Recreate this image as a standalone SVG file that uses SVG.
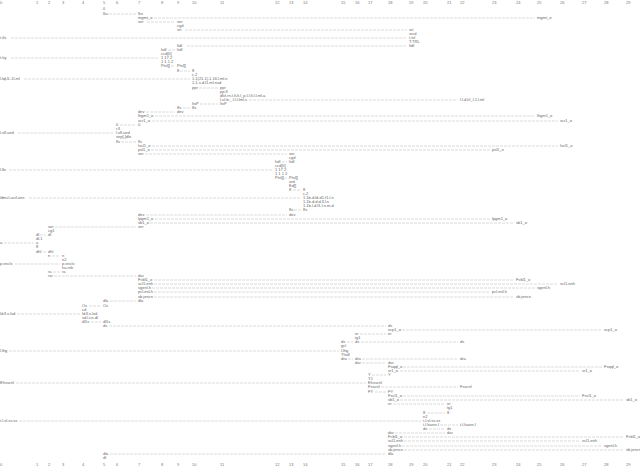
<svg xmlns="http://www.w3.org/2000/svg" width="640" height="466" viewBox="0 0 640 466">
<style>
text{font-family:"Liberation Sans",Arial,sans-serif;font-size:4px;fill:#666666}
.ax text{fill:#777777}
#connectors path{stroke:#c4c4c4;stroke-width:0.6;stroke-dasharray:3 1;fill:none}
</style>
<rect width="640" height="466" fill="#ffffff"/>
<g class="ax" id="axis-top">
<text x="0" y="4.4">0</text><text x="36" y="4.4">1</text><text x="48" y="4.4">2</text><text x="62" y="4.4">3</text><text x="82" y="4.4">4</text><text x="103" y="4.4">5</text><text x="116" y="4.4">6</text><text x="138" y="4.4">7</text><text x="161" y="4.4">8</text><text x="177" y="4.4">9</text><text x="192" y="4.4">10</text><text x="220" y="4.4">11</text><text x="275" y="4.4">12</text><text x="289" y="4.4">13</text><text x="303" y="4.4">14</text><text x="341" y="4.4">15</text><text x="355" y="4.4">16</text><text x="368" y="4.4">17</text><text x="388" y="4.4">18</text><text x="409" y="4.4">19</text><text x="423" y="4.4">20</text><text x="447" y="4.4">21</text><text x="460" y="4.4">22</text><text x="492" y="4.4">23</text><text x="516" y="4.4">24</text><text x="537" y="4.4">25</text><text x="560" y="4.4">26</text><text x="582" y="4.4">27</text><text x="604" y="4.4">28</text><text x="626" y="4.4">29</text>
</g>
<g class="ax" id="axis-bottom">
<text x="0" y="465.6">0</text><text x="36" y="465.6">1</text><text x="48" y="465.6">2</text><text x="62" y="465.6">3</text><text x="82" y="465.6">4</text><text x="103" y="465.6">5</text><text x="116" y="465.6">6</text><text x="138" y="465.6">7</text><text x="161" y="465.6">8</text><text x="177" y="465.6">9</text><text x="192" y="465.6">10</text><text x="220" y="465.6">11</text><text x="275" y="465.6">12</text><text x="289" y="465.6">13</text><text x="303" y="465.6">14</text><text x="341" y="465.6">15</text><text x="355" y="465.6">16</text><text x="368" y="465.6">17</text><text x="388" y="465.6">18</text><text x="409" y="465.6">19</text><text x="423" y="465.6">20</text><text x="447" y="465.6">21</text><text x="460" y="465.6">22</text><text x="492" y="465.6">23</text><text x="516" y="465.6">24</text><text x="537" y="465.6">25</text><text x="560" y="465.6">26</text><text x="582" y="465.6">27</text><text x="604" y="465.6">28</text><text x="626" y="465.6">29</text>
</g>
<g id="connectors">
<path d="M109 14H136"/><path d="M154 18H535"/><path d="M147 22H175"/><path d="M185 30H407"/><path d="M11 38H407"/><path d="M187 46H407"/><path d="M168 50H175"/><path d="M11 58H159"/><path d="M171 66H175"/><path d="M180 71H190"/><path d="M24 79H190"/><path d="M199 88H218"/><path d="M249 100H458"/><path d="M200 104H218"/><path d="M183 108H190"/><path d="M146 112H175"/><path d="M155 116H535"/><path d="M152 121H558"/><path d="M120 125H136"/><path d="M18 133H114"/><path d="M121 142H136"/><path d="M152 146H558"/><path d="M151 150H490"/><path d="M145 154H287"/><path d="M282 162H287"/><path d="M9 170H273"/><path d="M284.5 178H287"/><path d="M293 190H301"/><path d="M29 198H301"/><path d="M294 210H301"/><path d="M146 215H287"/><path d="M155 219H490"/><path d="M150 223H514"/><path d="M55 227H136"/><path d="M40 235H46"/><path d="M4 243H34"/><path d="M43 252H46"/><path d="M52 256H60"/><path d="M15 264H60"/><path d="M53 272H60"/><path d="M54 276H136"/><path d="M154 280H514"/><path d="M154 284H558"/><path d="M152 288H535"/><path d="M154 292H490"/><path d="M154 297H514"/><path d="M110 301H136"/><path d="M89 306H101"/><path d="M17 314H80"/><path d="M91 322H101"/><path d="M109 326H386"/><path d="M402 330H602"/><path d="M360 334H386"/><path d="M347 342H353"/><path d="M361 342H458"/><path d="M9 351H339"/><path d="M348 359H353"/><path d="M362 359H458"/><path d="M362 363H386"/><path d="M403 367H602"/><path d="M400 371H580"/><path d="M372 375H386"/><path d="M16 383H366"/><path d="M381 387H458"/><path d="M375 392H386"/><path d="M403 396H580"/><path d="M400 400H624"/><path d="M393 404H445"/><path d="M427 413H445"/><path d="M19 421H421"/><path d="M440 425H458"/><path d="M429 429H445"/><path d="M395 433H445"/><path d="M404 437H624"/><path d="M404 441H580"/><path d="M402 446H602"/><path d="M404 450H624"/><path d="M110 454H386"/>
</g>
<g id="n01"><text x="103" y="10.4">0</text><text x="103" y="15.4">lks</text></g>
<g id="n02"><text x="138" y="15.4">lks</text><text x="138" y="19.4">mgmt_o</text><text x="138" y="23.4">ser</text></g>
<g id="n03"><text x="537" y="19.4">mgmt_o</text></g>
<g id="n04"><text x="177" y="23.4">ser</text><text x="177" y="27.4">cgd</text><text x="177" y="31.4">srt</text></g>
<g id="n05"><text x="409" y="31.4">srt</text><text x="409" y="35.4">srcd</text><text x="409" y="39.4">t.tsl</text><text x="409" y="43.4">T.TRL</text><text x="409" y="47.4">ltdl</text></g>
<g id="n06"><text x="0" y="39.4">t.tls</text></g>
<g id="n07"><text x="177" y="47.4">ltdl</text><text x="177" y="51.4">hdl</text></g>
<g id="n08"><text x="161" y="51.4">hdl</text><text x="161" y="55.4">ccd[0]</text><text x="161" y="59.4">1 17 2</text><text x="161" y="63.4">1 1 1 2</text><text x="161" y="67.4">Ptsl[]</text></g>
<g id="n09"><text x="0" y="59.4">t.tty</text></g>
<g id="n10"><text x="177" y="67.4">Ptsl[]</text><text x="177" y="72.4">8</text></g>
<g id="n11"><text x="192" y="72.4">8</text><text x="192" y="76.4">c.2</text><text x="192" y="80.4">1.1(21.1).1.16.l.ml.n</text><text x="192" y="84.4">1.1.s.d.l1.ml.nsd</text><text x="192" y="89.4">ppr</text></g>
<g id="n12"><text x="0" y="80.4">l.lql.lL.1l.ml</text></g>
<g id="n13"><text x="220" y="89.4">ppr</text><text x="220" y="93.4">pp.fl</text><text x="220" y="97.4">dlvl.rn.t.lt.lt.l_p.l.l.lt.l.l.ml.a</text><text x="220" y="101.4">l.ul.le_.l.l.l.lml.s</text></g>
<g id="n14"><text x="460" y="101.4">l.l.d.lrl_l.1.l.ml</text></g>
<g id="n15"><text x="192" y="105.4">ltsP</text><text x="192" y="109.4">8s</text></g>
<g id="n16"><text x="220" y="105.4">ltsP</text></g>
<g id="n17"><text x="177" y="109.4">8s</text><text x="177" y="113.4">dev</text></g>
<g id="n18"><text x="138" y="113.4">dev</text><text x="138" y="117.4">lhgm1_o</text><text x="138" y="122.4">scr1_o</text><text x="138" y="126.4">0</text></g>
<g id="n19"><text x="537" y="117.4">lhgm1_o</text></g>
<g id="n20"><text x="560" y="122.4">scr1_o</text></g>
<g id="n21"><text x="116" y="126.4">0</text><text x="116" y="130.4">r.ll</text><text x="116" y="134.4">l.sfl.ued</text><text x="116" y="138.4">sep[.]dle</text><text x="116" y="143.4">flv</text></g>
<g id="n22"><text x="0" y="134.4">l.sfl.ued</text></g>
<g id="n23"><text x="138" y="143.4">flv</text><text x="138" y="147.4">lscl1_o</text><text x="138" y="151.4">psl1_o</text><text x="138" y="155.4">ser</text></g>
<g id="n24"><text x="560" y="147.4">lscl1_o</text></g>
<g id="n25"><text x="492" y="151.4">psl1_o</text></g>
<g id="n26"><text x="289" y="155.4">ser</text><text x="289" y="159.4">cgd</text><text x="289" y="163.4">hdl</text></g>
<g id="n27"><text x="275" y="163.4">hdl</text><text x="275" y="167.4">ccd[0]</text><text x="275" y="171.4">1 17 2</text><text x="275" y="175.4">1 1 1 2</text><text x="275" y="179.4">Ptsl[]</text></g>
<g id="n28"><text x="0" y="171.4">l.lle</text></g>
<g id="n29"><text x="289" y="179.4">Ptsl[]</text><text x="289" y="183.4">ard</text><text x="289" y="187.4">Ed[]</text><text x="289" y="191.4">8</text></g>
<g id="n30"><text x="303" y="191.4">8</text><text x="303" y="195.4">c.2</text><text x="303" y="199.4">1.1b.d.ld.d1.f1.l.n</text><text x="303" y="203.4">1.1b.d.d.d.ll.l.n</text><text x="303" y="207.4">1.1b.l.d.f1.l.n.m.d</text></g>
<g id="n31"><text x="289" y="211.4">8s</text><text x="289" y="216.4">dev</text></g>
<g id="n32"><text x="303" y="211.4">8s</text></g>
<g id="n33"><text x="0" y="199.4">ldmcl.ucrl.ons</text></g>
<g id="n34"><text x="138" y="216.4">dev</text><text x="138" y="220.4">lpgm1_o</text><text x="138" y="224.4">sb1_o</text><text x="138" y="228.4">ser</text></g>
<g id="n35"><text x="492" y="220.4">lpgm1_o</text></g>
<g id="n36"><text x="516" y="224.4">sb1_o</text></g>
<g id="n37"><text x="48" y="228.4">ser</text><text x="48" y="232.4">cg1</text><text x="48" y="236.4">dl</text></g>
<g id="n38"><text x="36" y="236.4">dl</text><text x="36" y="240.4">dl.1</text><text x="36" y="244.4">a</text><text x="36" y="248.4">8</text><text x="36" y="253.4">dhl</text></g>
<g id="n39"><text x="0" y="244.4">a</text></g>
<g id="n40"><text x="48" y="253.4">dhl</text><text x="48" y="257.4">n</text></g>
<g id="n41"><text x="62" y="257.4">n</text><text x="62" y="261.4">n2</text><text x="62" y="265.4">p.sncls</text><text x="62" y="269.4">ha.rnlr</text><text x="62" y="273.4">ra</text></g>
<g id="n42"><text x="0" y="265.4">p.sncls</text></g>
<g id="n43"><text x="48" y="273.4">ra</text><text x="48" y="277.4">rar</text></g>
<g id="n44"><text x="138" y="277.4">dar</text><text x="138" y="281.4">Fcbl1_o</text><text x="138" y="285.4">scl1.enh</text><text x="138" y="289.4">sgenl.h</text><text x="138" y="293.4">pcl.enl.h</text><text x="138" y="298.4">sb.jencn</text><text x="138" y="302.4">dla</text></g>
<g id="n45"><text x="516" y="281.4">Fcbl1_o</text></g>
<g id="n46"><text x="560" y="285.4">scl1.enh</text></g>
<g id="n47"><text x="537" y="289.4">sgenl.h</text></g>
<g id="n48"><text x="492" y="293.4">pcl.enl.h</text></g>
<g id="n49"><text x="516" y="298.4">sb.jencn</text></g>
<g id="n50"><text x="103" y="302.4">dla</text><text x="103" y="307.4">Os</text></g>
<g id="n51"><text x="82" y="307.4">Os</text><text x="82" y="311.4">cd</text><text x="82" y="315.4">ld.ll.s.lsd</text><text x="82" y="319.4">sd.l.cn.dl</text><text x="82" y="323.4">dl1s</text></g>
<g id="n52"><text x="0" y="315.4">ld.ll.s.lsd</text></g>
<g id="n53"><text x="103" y="323.4">dl1s</text><text x="103" y="327.4">ds</text></g>
<g id="n54"><text x="388" y="327.4">ds</text><text x="388" y="331.4">scp1_o</text><text x="388" y="335.4">er</text></g>
<g id="n55"><text x="604" y="331.4">scp1_o</text></g>
<g id="n56"><text x="355" y="335.4">er</text><text x="355" y="339.4">tg1</text><text x="355" y="343.4">ds</text></g>
<g id="n57"><text x="341" y="343.4">ds</text><text x="341" y="347.4">gcl</text><text x="341" y="352.4">l.lhg</text><text x="341" y="356.4">Tholl</text><text x="341" y="360.4">dra</text></g>
<g id="n58"><text x="0" y="352.4">l.lhg</text></g>
<g id="n59"><text x="460" y="343.4">ds</text></g>
<g id="n60"><text x="355" y="360.4">dra</text><text x="355" y="364.4">dar</text></g>
<g id="n61"><text x="460" y="360.4">dra</text></g>
<g id="n62"><text x="388" y="364.4">dar</text><text x="388" y="368.4">Fsqql_o</text><text x="388" y="372.4">sr1_o</text><text x="388" y="376.4">Y</text></g>
<g id="n63"><text x="604" y="368.4">Fsqql_o</text></g>
<g id="n64"><text x="582" y="372.4">sr1_o</text></g>
<g id="n65"><text x="368" y="376.4">Y</text><text x="368" y="380.4">Y1</text><text x="368" y="384.4">Ehsscnl</text><text x="368" y="388.4">Fsscnl</text><text x="368" y="393.4">FY</text></g>
<g id="n66"><text x="0" y="384.4">Ehsscnl</text></g>
<g id="n67"><text x="460" y="388.4">Fsscnl</text></g>
<g id="n68"><text x="388" y="393.4">FY</text><text x="388" y="397.4">Fscl1_o</text><text x="388" y="401.4">sb1_o</text><text x="388" y="405.4">er</text></g>
<g id="n69"><text x="582" y="397.4">Fscl1_o</text></g>
<g id="n70"><text x="626" y="401.4">sb1_o</text></g>
<g id="n71"><text x="447" y="405.4">er</text><text x="447" y="409.4">tg1</text><text x="447" y="414.4">8</text></g>
<g id="n72"><text x="423" y="414.4">8</text><text x="423" y="418.4">n2</text><text x="423" y="422.4">t.l.sl.ss.ss</text><text x="423" y="426.4">t.l.lsann.l</text><text x="423" y="430.4">ds</text></g>
<g id="n73"><text x="0" y="422.4">t.l.sl.ss.ss</text></g>
<g id="n74"><text x="460" y="426.4">t.l.lsann.l</text></g>
<g id="n75"><text x="447" y="430.4">ds</text><text x="447" y="434.4">dar</text></g>
<g id="n76"><text x="388" y="434.4">dar</text><text x="388" y="438.4">Fcbl1_o</text><text x="388" y="442.4">scl1.enh</text><text x="388" y="447.4">sgenl.h</text><text x="388" y="451.4">sb.jencn</text><text x="388" y="455.4">dla</text></g>
<g id="n77"><text x="626" y="438.4">Fcbl1_o</text></g>
<g id="n78"><text x="582" y="442.4">scl1.enh</text></g>
<g id="n79"><text x="604" y="447.4">sgenl.h</text></g>
<g id="n80"><text x="626" y="451.4">sb.jencn</text></g>
<g id="n81"><text x="103" y="455.4">dla</text><text x="103" y="459.4">dl</text></g>
</svg>
